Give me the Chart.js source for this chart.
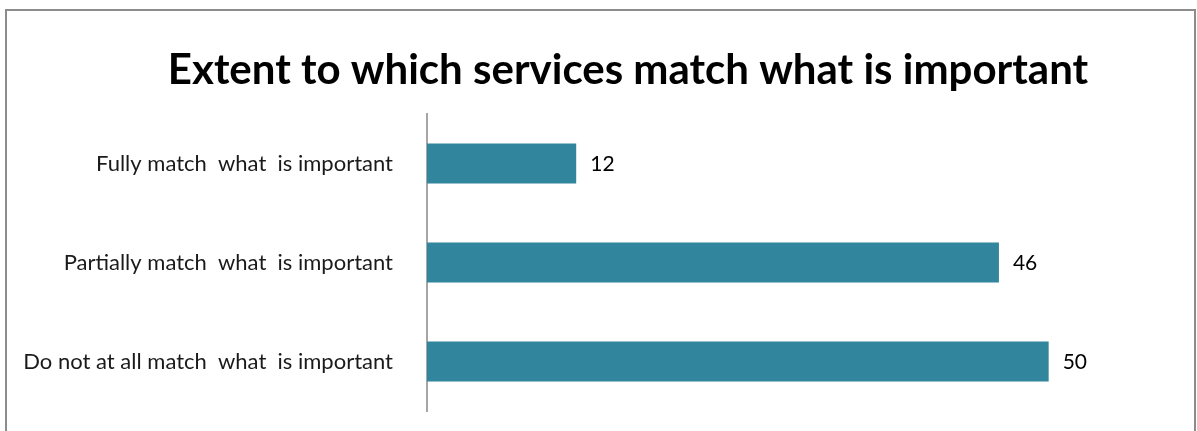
<!DOCTYPE html>
<html>
<head>
<meta charset="utf-8">
<script src="https://cdn.jsdelivr.net/npm/chart.js@4/dist/chart.umd.min.js"></script>
<style>
  html, body { margin: 0; padding: 0; background: #fff; overflow: hidden; }
  #frame {
    position: absolute; left: 5px; top: 9px;
    width: 1187px; height: 440px;
    border: 2px solid #8c8c8c; background: #fff;
  }
  #frame canvas { display: block; }
</style>
</head>
<body>
<div id="frame"><canvas id="chart" width="1187" height="440"></canvas></div>
<script>
(function () {
  'use strict';

  // Survey categories and percentages
  var categories = [
    'Fully match  what  is important',
    'Partially match  what  is important',
    'Do not at all match  what  is important'
  ];
  var values = [12, 46, 50];
  var titleText = 'Extent to which services match what is important';

  var barColor = '#31859C';
  var fontFamily = "Lato, 'Open Sans', sans-serif";

  // Title sits centred over the whole frame, independent of the plot area
  var chartTitle = {
    id: 'chartTitle',
    afterDraw: function (chart) {
      var ctx = chart.ctx;
      ctx.save();
      ctx.fillStyle = '#000';
      ctx.font = 'bold 42px ' + fontFamily;
      ctx.textAlign = 'center';
      ctx.textBaseline = 'alphabetic';
      ctx.fillText(titleText, 621, 73);
      ctx.restore();
    }
  };

  // Writes the value just past the end of each bar
  var valueLabels = {
    id: 'valueLabels',
    afterDatasetsDraw: function (chart) {
      var ctx = chart.ctx;
      var meta = chart.getDatasetMeta(0);
      ctx.save();
      ctx.fillStyle = '#000';
      ctx.font = '21px ' + fontFamily;
      ctx.textAlign = 'left';
      ctx.textBaseline = 'middle';
      meta.data.forEach(function (bar, i) {
        ctx.fillText(String(values[i]), bar.x + 14, bar.y + 1);
      });
      ctx.restore();
    }
  };

  new Chart(document.getElementById('chart'), {
    type: 'bar',
    data: {
      labels: categories,
      datasets: [{
        data: values,
        backgroundColor: barColor,
        borderWidth: 0,
        categoryPercentage: 1,
        barPercentage: 0.405
      }]
    },
    options: {
      indexAxis: 'y',
      responsive: false,
      animation: false,
      events: [],
      layout: { padding: { left: 10, right: 21, top: 103, bottom: 40 } },
      plugins: {
        legend: { display: false },
        tooltip: { enabled: false },
        title: { display: false }
      },
      scales: {
        x: {
          display: false,
          min: 0,
          max: 60
        },
        y: {
          // fixed label column; no extra room reserved above/below the labels
          afterFit: function (axis) {
            axis.width = 410;
            axis.paddingTop = 0;
            axis.paddingBottom = 0;
          },
          grid: { display: false, drawTicks: false },
          border: { display: true, color: '#a6a6a6', width: 2 },
          ticks: {
            color: '#1a1a1a',
            padding: 34,
            font: { family: fontFamily, size: 22 }
          }
        }
      }
    },
    plugins: [valueLabels, chartTitle]
  });
})();
</script>
</body>
</html>
